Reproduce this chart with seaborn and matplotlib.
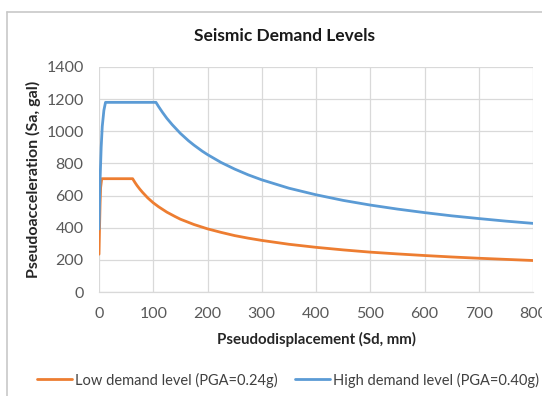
import matplotlib
matplotlib.use("Agg")
import matplotlib.pyplot as plt
import seaborn as sns
import pandas as pd
from matplotlib.lines import Line2D

# Data
low_sd = [0, 1, 2, 3, 5, 62, 66, 70, 75, 80, 90, 100, 110, 125, 140, 150, 175, 200,
          225, 250, 275, 300, 350, 400, 450, 500, 550, 600, 650, 700, 750, 800]
low_sa = [235, 400, 550, 650, 705, 705, 683, 663, 641, 621, 585, 555, 530, 497, 470,
          453, 420, 393, 371, 351, 335, 321, 297, 278, 262, 248, 237, 227, 218, 210,
          203, 196]
high_sd = [0, 1, 2, 4, 6, 9, 12, 105, 110, 117, 125, 135, 150, 165, 175, 190, 200,
           225, 250, 275, 300, 350, 400, 450, 500, 550, 600, 650, 700, 750, 800]
high_sa = [392, 560, 700, 900, 1030, 1130, 1180, 1180, 1153, 1118, 1081, 1041, 987,
           941, 914, 877, 855, 806, 765, 729, 698, 646, 605, 570, 541, 516, 494, 474,
           457, 441, 427]
series_names = ["Low demand level (PGA=0.24g)", "High demand level (PGA=0.40g)"]
x_ticks = [0, 100, 200, 300, 400, 500, 600, 700, 800]
y_ticks = [0, 200, 400, 600, 800, 1000, 1200, 1400]

df = pd.concat([
    pd.DataFrame({"Sd": low_sd, "Sa": low_sa, "series": series_names[0]}),
    pd.DataFrame({"Sd": high_sd, "Sa": high_sa, "series": series_names[1]}),
], ignore_index=True)

sns.set_theme(style="white")
plt.rcParams["font.family"] = ["Lato", "DejaVu Sans"]

fig = plt.figure(figsize=(5.42, 3.96), dpi=100)
ax = fig.add_axes([99 / 542, 1 - 292 / 396, (533 - 99) / 542, (292 - 67) / 396])

palette = {series_names[0]: "#ED7D31", series_names[1]: "#5B9BD5"}
sns.lineplot(data=df, x="Sd", y="Sa", hue="series", palette=palette, sort=False,
             estimator=None, linewidth=2.0, ax=ax, legend=False)

ax.set_xlim(0, 800)
ax.set_ylim(0, 1400)
ax.set_xticks(x_ticks)
ax.set_yticks(y_ticks)
ax.set_xticklabels([str(v) for v in x_ticks])
ax.set_yticklabels([str(v) for v in y_ticks])
ax.tick_params(axis="both", labelsize=11.5, colors="#595959", length=0)
ax.tick_params(axis="x", pad=11)
ax.tick_params(axis="y", pad=11)
ax.grid(True, color="#d9d9d9", linewidth=0.9)
ax.set_axisbelow(True)
for s in ["top", "right", "left"]:
    ax.spines[s].set_visible(False)
ax.spines["bottom"].set_color("#d9d9d9")
ax.spines["bottom"].set_linewidth(0.9)

ax.set_xlabel("Pseudodisplacement (Sd, mm)", fontsize=10.8, fontweight="bold",
              color="#262626", labelpad=8)
ax.set_ylabel("Pseudoacceleration (Sa, gal)", fontsize=11.5, fontweight="bold",
              color="#262626", labelpad=4)

fig.text(284 / 542, 1 - 36 / 396, "Seismic Demand Levels", ha="center", va="center",
         fontsize=12.5, fontweight="bold", color="#1a1a1a")

handles = [Line2D([], [], color=palette[n], linewidth=2.0) for n in series_names]
fig.legend(handles, series_names, loc="center", bbox_to_anchor=(288 / 542, 1 - 380 / 396),
           ncol=2, frameon=False, fontsize=10.5, handlelength=2.4, handletextpad=0.2,
           columnspacing=1.2, labelcolor="#404040")

# chart-area border (top and left edges visible in the reference crop)
fig.add_artist(Line2D([7 / 542, 1], [1 - 12 / 396, 1 - 12 / 396], color="#c8c8c8",
                      linewidth=1.2, transform=fig.transFigure))
fig.add_artist(Line2D([7 / 542, 7 / 542], [0, 1 - 12 / 396], color="#c8c8c8",
                      linewidth=1.2, transform=fig.transFigure))

fig.savefig("out.png", dpi=100)
